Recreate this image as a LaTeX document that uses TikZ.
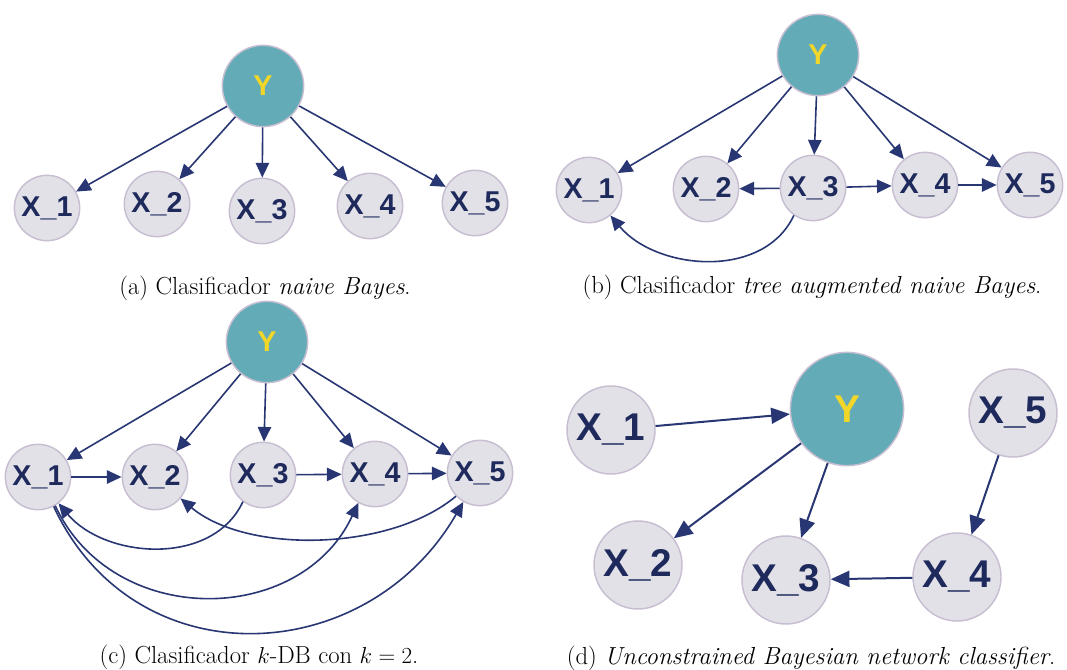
\documentclass[tikz,border=0pt]{standalone}
\usepackage{fontspec}
\newfontfamily\varfont{Liberation Sans}
\usetikzlibrary{arrows.meta}
\definecolor{clsfill}{RGB}{100,171,184}
\definecolor{clstext}{RGB}{242,215,40}
\definecolor{varfill}{RGB}{227,225,232}
\definecolor{varedge}{RGB}{200,190,210}
\definecolor{vartext}{RGB}{30,42,92}
\definecolor{arccol}{RGB}{40,55,115}
\tikzset{
  var/.style={circle, draw=varedge, fill=varfill, line width=1.1pt, inner sep=0pt,
    minimum size=49pt, text=vartext, font=\varfont\bfseries\fontsize{21.5}{21.5}\selectfont},
  cls/.style={var, fill=clsfill, minimum size=61pt, text=clstext},
  bigvar/.style={var, minimum size=66pt, font=\varfont\bfseries\fontsize{29}{29}\selectfont},
  bigcls/.style={cls, minimum size=85pt, font=\varfont\bfseries\fontsize{29}{29}\selectfont},
  arc/.style={draw=arccol, line width=1.2pt, -{Triangle[length=11pt,width=10pt]}},
  bigarc/.style={arc, line width=1.5pt, -{Triangle[length=14pt,width=12pt]}},
  subcap/.style={font=\fontsize{18.5}{20}\selectfont}
}
\begin{document}
\begin{tikzpicture}[x=0.75pt,y=0.75pt]
  \useasboundingbox (0,0) rectangle (1067,669);
  % (a)
  \node[cls] (aY) at (263,583) {Y};
  \foreach \n/\x/\y in {1/47/461,2/157/465,3/262/458,4/370/463,5/475/466}{
    \node[var] (aX\n) at (\x,\y) {X\_\n};
    \draw[arc] (aY) -- (aX\n);
  }
  \node[subcap] (capa) at (265,381) {(a) Clasificador \textit{naive Bayes}.};
  % (b)
  \node[cls] (bY) at (818,614) {Y};
  \foreach \n/\x/\y in {1/589/479,2/706/480,3/813/481,4/925/484,5/1030/484}{
    \node[var] (bX\n) at (\x,\y) {X\_\n};
    \draw[arc] (bY) -- (bX\n);
  }
  \draw[arc] (bX3) -- (bX2);
  \draw[arc] (bX3) -- (bX4);
  \draw[arc] (bX4) -- (bX5);
  \draw[arc] (bX3.-125) to[out=-115,in=-50] (bX1.-50);
  \node[subcap] (capb) at (812,382) {(b) Clasificador \textit{tree augmented naive Bayes}.};
  % (c)
  \node[cls] (cY) at (267,327) {Y};
  \foreach \n/\x/\y in {1/38/192,2/155/192,3/263/194,4/375/195,5/480/196}{
    \node[var] (cX\n) at (\x,\y) {X\_\n};
    \draw[arc] (cY) -- (cX\n);
  }
  \draw[arc] (cX1) -- (cX2);
  \draw[arc] (cX3) -- (cX4);
  \draw[arc] (cX4) -- (cX5);
  \draw[arc] (cX3.-127) to[out=-115,in=-50] (cX1.-52);
  \draw[arc] (cX5.-136) to[out=-140,in=-40,looseness=0.8] (cX2.-40);
  \draw[arc] (cX1.-59) to[out=-65,in=-115,looseness=1.15] (cX4.-120);
  \draw[arc] (cX1.-62) to[out=-65,in=-120,looseness=1.2] (cX5.-120);
  \node[subcap] (capc) at (259,12) {(c) Clasificador $k$-DB con $k=2$.};
  % (d)
  \node[bigcls] (dY) at (847,260) {Y};
  \node[bigvar] (dX1) at (611,239) {X\_1};
  \node[bigvar] (dX2) at (638,104) {X\_2};
  \node[bigvar] (dX3) at (786,89) {X\_3};
  \node[bigvar] (dX4) at (957,92) {X\_4};
  \node[bigvar] (dX5) at (1013,256) {X\_5};
  \draw[bigarc] (dX1) -- (dY);
  \draw[bigarc] (dY) -- (dX2);
  \draw[bigarc] (dY) -- (dX3);
  \draw[bigarc] (dX5) -- (dX4);
  \draw[bigarc] (dX4) -- (dX3);
  \node[subcap] (capd) at (811,11) {(d) \textit{Unconstrained Bayesian network classifier}.};
\end{tikzpicture}
\end{document}
